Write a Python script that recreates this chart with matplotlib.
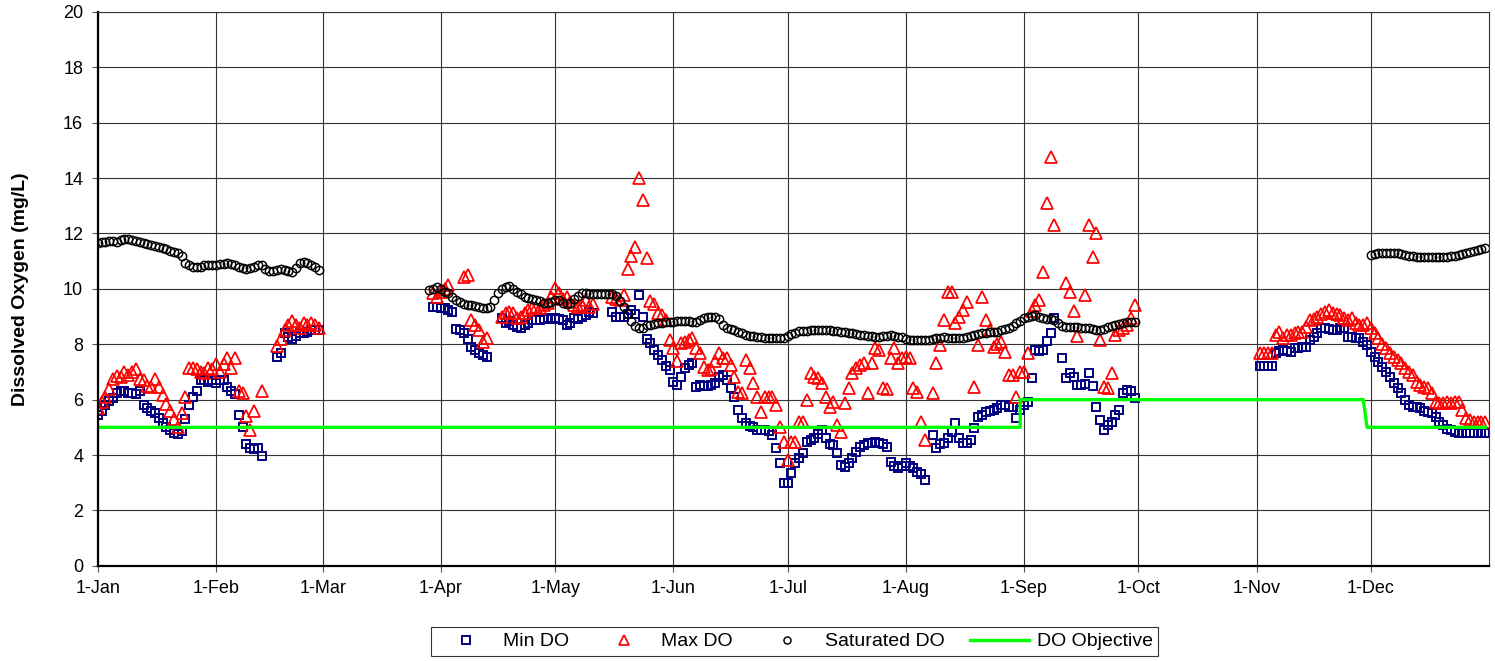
import numpy as np
import matplotlib.pyplot as plt

plt.rcParams['font.family'] = ['Liberation Sans', 'DejaVu Sans']

nan = float('nan')

# ---- 日付軸 (1月1日 = 0日目) ----
MONTH_DAYS = [0, 31, 59, 90, 120, 151, 181, 212, 243, 273, 304, 334]
MONTH_LABELS = ['1-Jan', '1-Feb', '1-Mar', '1-Apr', '1-May', '1-Jun',
                '1-Jul', '1-Aug', '1-Sep', '1-Oct', '1-Nov', '1-Dec']

# ---- Min DO (各リストの先頭の日付を start に) ----
MIN_JAN_START = 0
MIN_JAN = [5.45, 5.6, 5.8, 5.95, 6.05, 6.25, 6.3, 6.3, 6.25, 6.25,
           6.2, 6.3, 5.8, 5.7, 5.6, 5.5, 5.35, 5.15, 5.0, 4.9,
           4.8, 4.75, 4.85, 5.3, 5.8, 6.1, 6.3, 6.7, 6.7, 6.65,
           6.7, 6.6, 6.7, 6.7, 6.45, 6.3, 6.2, 5.45, 5.0, 4.4,
           4.25, 4.2, 4.25, 3.95]
MIN_FEB_START = 47
MIN_FEB = [7.55, 7.7, 8.4, 8.25, 8.2, 8.3, 8.4, 8.4, 8.45, 8.5, 8.5, 8.5]
MIN_APR_START = 88
MIN_APR = [9.35, 9.35, 9.3, 9.3, 9.25, 9.17, 8.55, 8.5, 8.4, 8.2,
           7.9, 7.8, 7.7, 7.6, 7.55]
MIN_MAY_START = 106
MIN_MAY = [8.93, 8.75, 8.85, 8.7, 8.63, 8.6, 8.69, 8.75, 8.87, 8.87,
           8.87, 8.9, 8.93, 8.9, 8.93, 8.9, 8.87, 8.69, 8.75, 8.93,
           8.9, 8.99, 9.05, 9.17, 9.11]
MIN_JUN_START = 135
MIN_JUN = [9.17, 8.99, 8.99, 9.0, 9.1, 9.23, 9.1, 9.77, 9.0, 8.2,
           8.03, 7.79, 7.61, 7.43, 7.2, 7.07, 6.65, 6.53, 6.8, 7.13,
           7.25, 7.31, 6.45, 6.53, 6.5, 6.5, 6.53, 6.6, 6.8, 6.89,
           6.7, 6.41, 6.1, 5.63, 5.33, 5.15, 5.05, 5.0, 4.91, 4.9,
           4.9, 4.85, 4.72, 4.24, 3.7, 2.98, 3.0]
MIN_JUL_START = 182
MIN_JUL = [3.34, 3.7, 3.9, 4.06, 4.48, 4.55, 4.6, 4.75, 4.9, 4.6,
           4.4, 4.36, 4.06, 3.64, 3.58, 3.7, 3.88, 4.12, 4.3, 4.35,
           4.42, 4.45, 4.48, 4.45, 4.4, 4.3, 3.76, 3.6, 3.52, 3.6,
           3.7, 3.6, 3.52, 3.4, 3.3, 3.1]
MIN_AUG_START = 219
MIN_AUG = [4.72, 4.24, 4.4, 4.42, 4.6, 4.84, 5.14, 4.6, 4.42, 4.42,
           4.54, 4.96, 5.38, 5.45, 5.56, 5.6, 5.62, 5.7, 5.8, 5.8,
           5.74, 5.74, 5.32, 5.62, 5.8, 5.9, 6.77, 7.79, 7.75, 7.79,
           8.1, 8.39, 8.93]
MIN_SEP_START = 253
MIN_SEP = [7.49, 6.77, 6.95, 6.8, 6.53, 6.53, 6.55, 6.95, 6.5, 5.74,
           5.26, 4.9, 5.1, 5.2, 5.44, 5.62, 6.23, 6.35, 6.3, 6.05]
MIN_NOV_START = 305
MIN_NOV = [7.22, 7.22, 7.22, 7.22, 7.7, 7.75, 7.8, 7.75, 7.73, 7.85,
           7.85, 7.9, 7.91, 8.15, 8.27, 8.4, 8.57, 8.6, 8.55, 8.5,
           8.51, 8.57, 8.57, 8.27, 8.25, 8.21, 8.21, 8.09, 7.97, 7.73,
           7.55, 7.37, 7.19, 7.0, 6.83, 6.59, 6.41, 6.23, 5.99, 5.8,
           5.74, 5.75, 5.68, 5.6, 5.56, 5.5, 5.38, 5.2, 5.08, 4.95,
           4.9, 4.84, 4.8, 4.78, 4.78, 4.78, 4.78, 4.78, 4.78, 4.78]

# ---- Max DO ----
MAX_JAN_START = 0
MAX_JAN = [5.7, 5.9, 6.1, 6.4, 6.75, 6.85, 6.8, 7.0, 6.9, 7.0,
           7.1, 6.75, 6.7, 6.5, 6.45, 6.75, 6.45, 6.15, 5.85, 5.6,
           5.3, 5.0, 5.5, 6.1, 7.15, 7.15, 7.1, 7.0, 6.95, 7.15,
           7.1, 7.3, 7.0, 7.3, 7.5, 7.15, 7.5, 6.3, 6.25, 5.4,
           4.9, 5.6, nan, 6.3]
MAX_FEB_START = 47
MAX_FEB = [7.95, 8.2, 8.5, 8.7, 8.85, 8.7, 8.6, 8.75, 8.7, 8.75, 8.7, 8.6]
MAX_APR_START = 88
MAX_APR = [9.85, 9.71, 9.9, 10.0, 10.14, nan, nan, nan, 10.44, 10.5,
           8.87, 8.69, 8.51, 8.09, 8.21]
MAX_MAY_START = 106
MAX_MAY = [9.0, 9.11, 9.17, 9.11, 8.93, 9.0, 9.11, 9.23, 9.3, 9.35,
           9.3, 9.4, 9.5, 9.7, 10.02, 9.84, 9.65, 9.71, 9.53, 9.4,
           9.35, 9.41, 9.59, 9.35, 9.47]
MAX_JUN_START = 135
MAX_JUN = [9.71, 9.65, 9.6, 9.77, 10.7, 11.2, 11.5, 13.99, 13.2, 11.1,
           9.55, 9.45, 9.11, 9.05, 8.87, 8.15, 7.85, 7.4, 8.03, 8.09,
           8.15, 8.21, 7.85, 7.67, 7.19, 7.07, 7.1, 7.4, 7.67, 7.5,
           7.49, 7.25, 6.83, 6.29, 6.23, 7.43, 7.13, 6.59, 6.11, 5.56,
           6.11, 6.11, 6.11, 5.81, 5.02, 4.48, 3.82]
MAX_JUL_START = 182
MAX_JUL = [4.48, 4.48, 5.2, 5.2, 6.0, 6.95, 6.83, 6.77, 6.59, 6.11,
           5.75, 5.93, 5.08, 4.84, 5.87, 6.41, 6.95, 7.13, 7.25, 7.31,
           6.23, 7.31, 7.85, 7.8, 6.41, 6.4, 7.49, 7.85, 7.31, 7.5,
           7.55, 7.49, 6.41, 6.29, 5.2, 4.54]
MAX_AUG_START = 219
MAX_AUG = [6.23, 7.31, 7.97, 8.87, 9.9, 9.9, 8.75, 8.99, 9.23, 9.53,
           nan, 6.47, 7.97, 9.72, 8.87, 8.5, 7.91, 8.0, 8.09, 7.73,
           6.89, 6.89, 6.11, 7.01, 7.01, 7.67, 9.2, 9.4, 9.6, 10.62,
           13.09, 14.77, 12.3]
MAX_SEP_START = 253
MAX_SEP = [nan, 10.2, 9.9, 9.2, 8.3, nan, 9.78, 12.3, 11.16, 12.0,
           8.15, 6.47, 6.41, 6.95, 8.33, 8.5, 8.57, 8.7, 8.93, 9.41]
MAX_NOV_START = 305
MAX_NOV = [7.67, 7.67, 7.67, 7.67, 8.33, 8.45, 8.21, 8.33, 8.33, 8.39,
           8.45, 8.45, 8.63, 8.87, 8.9, 8.99, 9.1, 9.17, 9.23, 9.11,
           9.1, 9.05, 8.95, 8.87, 8.93, 8.75, 8.69, 8.7, 8.75, 8.57,
           8.39, 8.21, 8.0, 7.85, 7.67, 7.55, 7.43, 7.31, 7.15, 7.01,
           6.89, 6.65, 6.53, 6.45, 6.41, 6.23, 5.93, 5.87, 5.87, 5.93,
           5.87, 5.9, 5.93, 5.63, 5.32, 5.26, 5.2, 5.2, 5.2, 5.2]

# ---- Saturated DO ----
SAT_JAN_START = 0
SAT_JAN = [11.65, 11.7, 11.7, 11.72, 11.72, 11.7, 11.75, 11.8, 11.8, 11.75,
           11.72, 11.68, 11.65, 11.62, 11.58, 11.55, 11.5, 11.46, 11.42, 11.38,
           11.34, 11.28, 11.2, 10.95, 10.85, 10.8, 10.78, 10.8, 10.85, 10.85,
           10.85, 10.86, 10.88, 10.9, 10.92, 10.9, 10.85, 10.8, 10.74, 10.72,
           10.74, 10.78, 10.85, 10.86, 10.72, 10.66, 10.65, 10.68, 10.7, 10.68,
           10.66, 10.62, 10.75, 10.92, 10.98, 10.95, 10.86, 10.78, 10.68]
SAT_APR_START = 87
SAT_APR = [9.96, 10.0, 10.05, 10.0, 9.9, 9.84, 9.7, 9.6, 9.53, 9.45,
           9.41, 9.4, 9.38, 9.35, 9.32, 9.3, 9.35, 9.6, 9.85, 10.0,
           10.08, 10.1, 10.0, 9.9, 9.8, 9.72, 9.66, 9.62, 9.6, 9.55,
           9.5, 9.5, 9.53, 9.58, 9.58, 9.5, 9.45, 9.5, 9.65, 9.75,
           9.84, 9.84, 9.82, 9.82, 9.82, 9.82, 9.82, 9.82, 9.82, 9.75,
           9.55, 9.35, 9.1, 8.85, 8.65, 8.57, 8.6, 8.69, 8.7, 8.72,
           8.75, 8.77, 8.8, 8.81]
SAT_SUMMER_START = 151
SAT_SUMMER = [8.82, 8.83, 8.84, 8.84, 8.83, 8.82, 8.81, 8.88, 8.93, 8.97,
              8.99, 8.97, 8.9, 8.7, 8.6, 8.55, 8.51, 8.45, 8.39, 8.35,
              8.3, 8.28, 8.26, 8.25, 8.24, 8.22, 8.21, 8.21, 8.22, 8.24,
              8.3, 8.38, 8.42, 8.46, 8.48, 8.49, 8.5, 8.51, 8.51, 8.51,
              8.51, 8.51, 8.49, 8.47, 8.45, 8.43, 8.41, 8.39, 8.37, 8.35,
              8.33, 8.31, 8.29, 8.27, 8.25, 8.28, 8.31, 8.33, 8.3, 8.27,
              8.25, 8.2, 8.16, 8.15, 8.14, 8.14, 8.15, 8.17, 8.19, 8.21,
              8.23, 8.25, 8.24, 8.23, 8.23, 8.22, 8.22, 8.25, 8.29, 8.33,
              8.36, 8.39, 8.41, 8.43, 8.44, 8.45, 8.5, 8.54, 8.57, 8.65,
              8.75, 8.84, 8.93, 8.98, 9.02, 9.05, 9.0, 8.95, 8.92, 8.9,
              8.87, 8.75, 8.65, 8.63, 8.63, 8.63, 8.62, 8.6, 8.58, 8.57,
              8.55, 8.52, 8.51, 8.56, 8.62, 8.65, 8.68, 8.72, 8.76, 8.8,
              8.81, 8.81]
SAT_DEC_START = 334
SAT_DEC = [11.22, 11.25, 11.28, 11.28, 11.28, 11.28, 11.28, 11.28, 11.25, 11.22,
           11.2, 11.18, 11.16, 11.15, 11.14, 11.14, 11.14, 11.14, 11.15, 11.16,
           11.16, 11.18, 11.2, 11.22, 11.26, 11.3, 11.33, 11.37, 11.4, 11.43,
           11.46]

# ---- DO Objective ----
OBJ_DAYS = [0, 242, 242, 332, 333, 364]
OBJ_VALUES = [5, 5, 6, 6, 5, 5]


def join_parts(parts):
    """(開始日, 値リスト) をつなげて x, y 配列にする"""
    xs = np.concatenate([start + np.arange(len(vals)) for start, vals in parts])
    ys = np.concatenate([np.asarray(vals, dtype=float) for _, vals in parts])
    return xs, ys


min_x, min_y = join_parts([(MIN_JAN_START, MIN_JAN), (MIN_FEB_START, MIN_FEB),
                           (MIN_APR_START, MIN_APR), (MIN_MAY_START, MIN_MAY),
                           (MIN_JUN_START, MIN_JUN), (MIN_JUL_START, MIN_JUL),
                           (MIN_AUG_START, MIN_AUG), (MIN_SEP_START, MIN_SEP),
                           (MIN_NOV_START, MIN_NOV)])
max_x, max_y = join_parts([(MAX_JAN_START, MAX_JAN), (MAX_FEB_START, MAX_FEB),
                           (MAX_APR_START, MAX_APR), (MAX_MAY_START, MAX_MAY),
                           (MAX_JUN_START, MAX_JUN), (MAX_JUL_START, MAX_JUL),
                           (MAX_AUG_START, MAX_AUG), (MAX_SEP_START, MAX_SEP),
                           (MAX_NOV_START, MAX_NOV)])
sat_x, sat_y = join_parts([(SAT_JAN_START, SAT_JAN), (SAT_APR_START, SAT_APR),
                           (SAT_SUMMER_START, SAT_SUMMER), (SAT_DEC_START, SAT_DEC)])

# ---- 描画 ----
fig = plt.figure(figsize=(14.95, 6.61), dpi=100)
ax = fig.add_axes([0.0654, 0.1440, 0.9306, 0.8381])

ax.plot(min_x, min_y, linestyle='none', marker='s', markersize=6.4,
        markerfacecolor='none', markeredgecolor='#000080',
        markeredgewidth=1.4, label='Min DO')
ax.plot(max_x, max_y, linestyle='none', marker='^', markersize=8.6,
        markerfacecolor='none', markeredgecolor='#FF0000',
        markeredgewidth=1.25, label='Max DO')
ax.plot(sat_x, sat_y, linestyle='none', marker='o', markersize=6.0,
        markerfacecolor='none', markeredgecolor='black',
        markeredgewidth=1.05, label='Saturated DO')
ax.plot(OBJ_DAYS, OBJ_VALUES, color='#00FF00', linewidth=2.4,
        label='DO Objective')

ax.set_xlim(0, 365)
ax.set_ylim(0, 20)
ax.set_xticks(MONTH_DAYS)
ax.set_xticklabels(MONTH_LABELS)
ax.set_yticks(np.arange(0, 21, 2))

ax.grid(True, color='#333333', linewidth=0.8)
ax.set_axisbelow(True)
ax.tick_params(axis='both', direction='out', length=4.5, width=0.8,
               color='#555555', labelsize=13)
ax.tick_params(axis='x', pad=6)
ax.tick_params(axis='y', pad=6)

for side in ['left', 'bottom']:
    ax.spines[side].set_linewidth(1.6)
for side in ['top', 'right']:
    ax.spines[side].set_linewidth(0.8)
    ax.spines[side].set_color('#333333')

ax.set_ylabel('Dissolved Oxygen (mg/L)', fontsize=14, fontweight='bold',
              va='center')
ax.yaxis.set_label_coords(-0.0558, 0.5)

leg = fig.legend(loc='center', bbox_to_anchor=(0.5314, 0.0295), ncol=4,
                 fontsize=14, frameon=True, fancybox=False,
                 edgecolor='black', handlelength=3.03, handletextpad=0.41,
                 columnspacing=1.29, borderpad=0.28, markerscale=0.85)
leg.get_frame().set_linewidth(0.8)

fig.savefig('out.png', dpi=100)
plt.close(fig)
